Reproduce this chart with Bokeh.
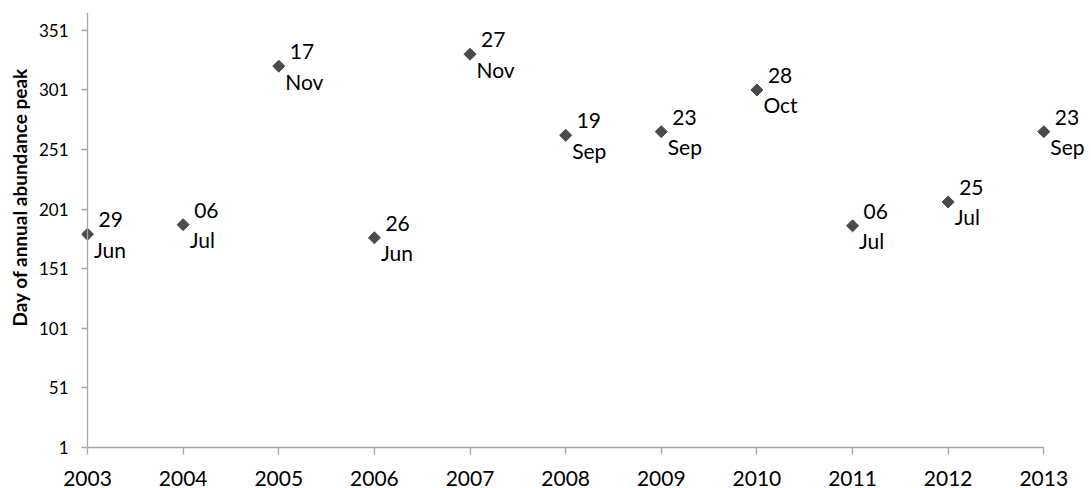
import math
from bokeh.plotting import figure
from bokeh.models import ColumnDataSource, Range1d, FixedTicker, LabelSet, Span, Title
from bokeh.core.properties import value
from bokeh.embed import file_html
from bokeh.resources import INLINE

years = [2003, 2004, 2005, 2006, 2007, 2008, 2009, 2010, 2011, 2012, 2013]
peak_day = [180, 188, 321, 177, 331, 263, 266, 301, 187, 207, 266]
day_labels = ["29", "06", "17", "26", "27", "19", "23", "28", "06", "25", "23"]
month_labels = ["Jun", "Jul", "Nov", "Jun", "Nov", "Sep", "Sep", "Oct", "Jul", "Jul", "Sep"]
y_ticks = [1, 51, 101, 151, 201, 251, 301, 351]
y_max = 366

src = ColumnDataSource(dict(year=years, peak=peak_day, day=day_labels, month=month_labels))

FONT = "Lato"
AXIS_COLOR = "#a6a6a6"
MARK_COLOR = "#4a4a4a"

W, H = 1091, 488
frame_left, frame_right = 81, 1091     # frame edges in px
axis_x0, axis_x1 = 87, 1043.3          # pixel positions of first / last year
px_per_year = (axis_x1 - axis_x0) / (years[-1] - years[0])
x_start = years[0] - (axis_x0 - frame_left) / px_per_year
x_end = years[-1] + (frame_right - axis_x1) / px_per_year

p = figure(width=W, height=H, output_backend="svg", toolbar_location=None,
           x_range=Range1d(x_start, x_end), y_range=Range1d(y_ticks[0], y_max),
           min_border_left=frame_left, min_border_right=W - frame_right,
           min_border_top=12, min_border_bottom=40)
p.outline_line_color = None
p.grid.visible = False
p.background_fill_color = "white"
p.border_fill_color = "white"

p.xaxis.ticker = FixedTicker(ticks=years)
p.yaxis.ticker = FixedTicker(ticks=y_ticks)
for ax in (p.xaxis[0], p.yaxis[0]):
    ax.axis_line_color = AXIS_COLOR
    ax.axis_line_width = 1.3
    ax.major_tick_line_color = AXIS_COLOR
    ax.major_tick_line_width = 1.3
    ax.minor_tick_line_color = None
    ax.major_label_text_font = FONT
    ax.major_label_text_color = "black"

# x axis: line limited to the years
p.xaxis.bounds = (years[0], years[-1])
p.xaxis.major_tick_in = 0
p.xaxis.major_tick_out = 7
p.xaxis.major_label_text_font_size = "21px"
p.xaxis.major_label_standoff = 16

# y axis: drawn at the first year (line as a span, ticks pointing toward it)
p.yaxis.axis_line_color = None
p.yaxis.major_tick_in = int(round(axis_x0 - frame_left))
p.yaxis.major_tick_out = 0
p.yaxis.major_label_text_font_size = "17px"
p.yaxis.major_label_standoff = 13
p.add_layout(Span(location=years[0], dimension="height", line_color=AXIS_COLOR, line_width=1.3))

p.add_layout(Title(text="Day of annual abundance peak", align="left", offset=121,
                   text_font=FONT, text_font_style="bold", text_font_size="19px",
                   text_color="black", standoff=9), "left")

p.scatter("year", "peak", source=src, marker="square", size=8.5, angle=math.pi / 4,
          fill_color=MARK_COLOR, line_color=MARK_COLOR)

p.add_layout(LabelSet(x="year", y="peak", text="day", source=src, x_offset=11, y_offset=7,
                      text_font=value(FONT), text_font_size=value("21px"), text_color="black",
                      text_align="left", text_baseline="alphabetic"))
p.add_layout(LabelSet(x="year", y="peak", text="month", source=src, x_offset=6.5, y_offset=-23.5,
                      text_font=value(FONT), text_font_size=value("21px"), text_color="black",
                      text_align="left", text_baseline="alphabetic"))

open("out.html", "w").write(file_html(p, INLINE))
